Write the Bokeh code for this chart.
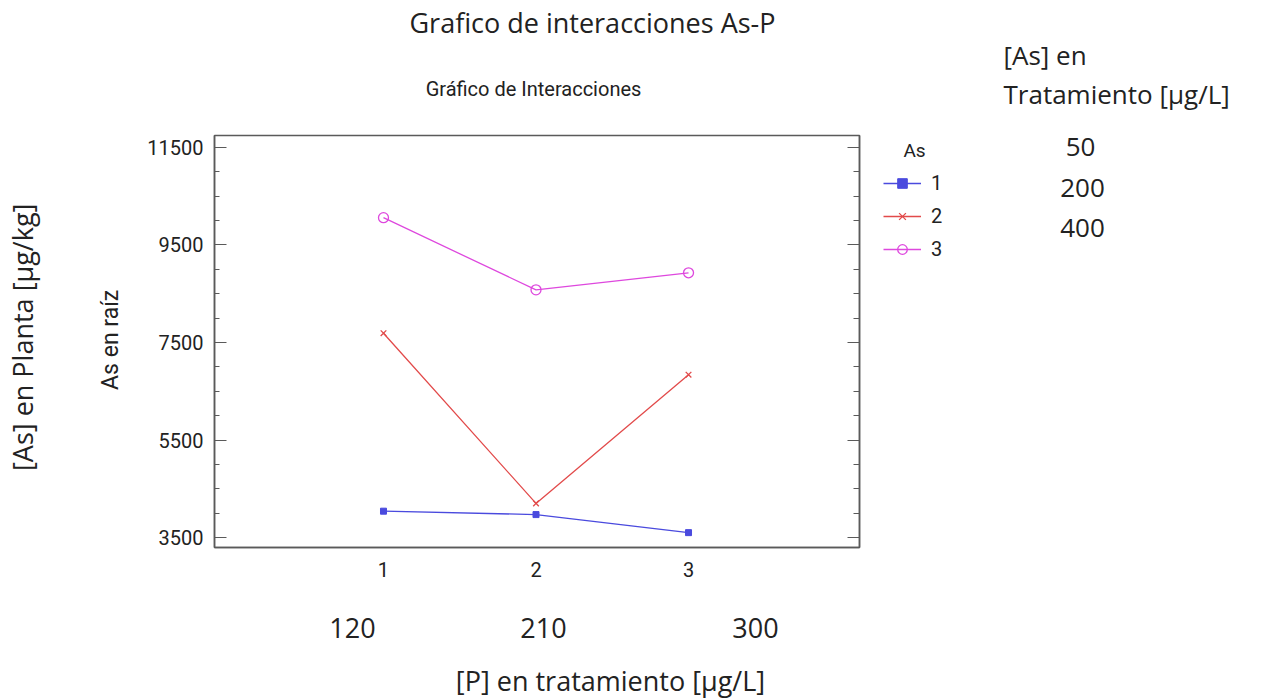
from math import pi
from bokeh.plotting import figure
from bokeh.layouts import row, column
from bokeh.models import Range1d, FixedTicker, LinearAxis, Label, Legend, LegendItem
from bokeh.embed import file_html
from bokeh.resources import INLINE

# ---- data ----
p_levels = [1, 2, 3]
p_conc_labels = ["120", "210", "300"]
as_levels = ["1", "2", "3"]
as_conc_labels = ["50", "200", "400"]
as1_values = [4040, 3970, 3600]
as2_values = [7690, 4200, 6840]
as3_values = [10060, 8580, 8930]
y_major_ticks = [3500, 5500, 7500, 9500, 11500]
y_minor_ticks = [4000, 4500, 5000, 6000, 6500, 7000, 8000, 8500, 9000, 10000, 10500, 11000]

NARROW = "Roboto"
SANS = "Open Sans"
TXT = "#222222"
AX = "#5a5a5a"
colors = ["#4a4ade", "#e24a4a", "#de48de"]
NAN = float("nan")

# page layout boxes (px)
RIGHT_X = 870          # right text/legend panel starts here
TOP_H = 115            # top text panel height
MAIN_X, MAIN_Y, MAIN_W, MAIN_H = 140, 115, RIGHT_X - 140, 490
FL, FR, FT, FB = 214, 859, 135, 547   # frame edges (page px)
X0, X1 = -0.108, 4.121
Y0, Y1 = 3295, 11746


def text_fig(ox, oy, w, h):
    f = figure(width=w, height=h, output_backend="svg", toolbar_location=None,
               x_range=Range1d(ox, ox + w), y_range=Range1d(oy + h, oy),
               x_axis_location=None, y_axis_location=None,
               min_border=0, outline_line_color=None)
    f.grid.visible = False
    f.background_fill_color = "white"
    f.border_fill_color = "white"
    return f


def lab(f, text, px, py, font, size, angle=0.0, align="center"):
    f.add_layout(Label(x=px, y=py, text=text, text_font=font,
                       text_font_size=f"{size}px", text_align=align,
                       text_baseline="middle", angle=angle, text_color=TXT))


# ---- main chart ----
p = figure(width=MAIN_W, height=MAIN_H, output_backend="svg", toolbar_location=None,
           x_range=Range1d(X0, X1), y_range=Range1d(Y0, Y1),
           min_border_left=FL - MAIN_X, min_border_right=MAIN_X + MAIN_W - FR,
           min_border_top=FT - MAIN_Y, min_border_bottom=MAIN_Y + MAIN_H - FB)
p.background_fill_color = "white"
p.border_fill_color = "white"
p.grid.visible = False
p.outline_line_color = AX
p.outline_line_width = 1.5

xa = p.xaxis[0]
xa.ticker = FixedTicker(ticks=p_levels)
xa.major_tick_in = 0
xa.major_tick_out = 0
xa.minor_tick_in = 0
xa.minor_tick_out = 0
xa.axis_line_color = AX
xa.axis_line_width = 1.5
xa.major_label_text_font = NARROW
xa.major_label_text_font_size = "20px"
xa.major_label_text_color = TXT
xa.major_label_standoff = 14

yticker = FixedTicker(ticks=y_major_ticks, minor_ticks=y_minor_ticks)
ya = p.yaxis[0]
ya.ticker = yticker
ya.major_tick_in = 12
ya.major_tick_out = 0
ya.minor_tick_in = 5
ya.minor_tick_out = 0
ya.axis_line_color = AX
ya.axis_line_width = 1.5
ya.major_tick_line_color = AX
ya.minor_tick_line_color = AX
ya.major_label_text_font = NARROW
ya.major_label_text_font_size = "20px"
ya.major_label_text_color = TXT
ya.major_label_standoff = 11

ra = LinearAxis(ticker=yticker, major_tick_in=12, major_tick_out=0,
                minor_tick_in=6, minor_tick_out=0, axis_line_color=AX,
                axis_line_width=1.5, major_tick_line_color=AX,
                minor_tick_line_color=AX, major_label_text_color=None,
                major_label_overrides={v: "" for v in y_major_ticks},
                major_label_standoff=0)
p.add_layout(ra, "right")

p.line(p_levels, as1_values, line_color=colors[0], line_width=1.3)
p.scatter(p_levels, as1_values, marker="square", size=6, color=colors[0])
p.line(p_levels, as2_values, line_color=colors[1], line_width=1.3)
p.scatter(p_levels, as2_values, marker="x", size=8, line_color=colors[1], line_width=1.3)
p.line(p_levels, as3_values, line_color=colors[2], line_width=1.3)
p.scatter(p_levels, as3_values, marker="circle", size=10, fill_color=None,
          line_color=colors[2], line_width=1.3)

# ---- surrounding texts ----
top = text_fig(0, 0, RIGHT_X, TOP_H)
lab(top, "Grafico de interacciones As-P", 592, 22, SANS, 27)
lab(top, "Gráfico de Interacciones", 533, 88, NARROW, 20)

left = text_fig(0, MAIN_Y, MAIN_X, MAIN_H)
lab(left, "[As] en Planta [μg/kg]", 22, 355, SANS, 27, angle=pi / 2)
lab(left, "As en raíz", 110, 358, NARROW, 23, angle=pi / 2)

bottom_y = MAIN_Y + MAIN_H
bottom = text_fig(0, bottom_y, RIGHT_X, 698 - bottom_y)
for txt, px in zip(p_conc_labels, [352, 543, 755]):
    lab(bottom, txt, px, 627, SANS, 27)
lab(bottom, "[P] en tratamiento [μg/L]", 610, 680, SANS, 27)

right = text_fig(RIGHT_X, 0, 1275 - RIGHT_X, 698)
# legend swatches: style-only renderers (single NaN point, nothing drawn in the frame)
g1 = right.line([NAN], [NAN], line_color=colors[0], line_width=1.3)
s1 = right.scatter([NAN], [NAN], marker="square", size=6, color=colors[0])
g2 = right.line([NAN], [NAN], line_color=colors[1], line_width=1.3)
s2 = right.scatter([NAN], [NAN], marker="x", size=8, line_color=colors[1], line_width=1.3)
g3 = right.line([NAN], [NAN], line_color=colors[2], line_width=1.3)
s3 = right.scatter([NAN], [NAN], marker="circle", size=10, fill_color=None,
                   line_color=colors[2], line_width=1.3)
items = [LegendItem(label=as_levels[0], renderers=[g1, s1]),
         LegendItem(label=as_levels[1], renderers=[g2, s2]),
         LegendItem(label=as_levels[2], renderers=[g3, s3])]
legend = Legend(items=items, location=(883 - RIGHT_X, 698 - 261), border_line_color=None,
                background_fill_alpha=0, padding=0, margin=0, spacing=9,
                glyph_width=38, glyph_height=24, label_height=24, label_standoff=10,
                label_text_font=NARROW, label_text_font_size="20px",
                label_text_color=TXT)
right.add_layout(legend, "center")
lab(right, "As", 914, 150, NARROW, 19)

lab(right, "[As] en", 1003, 54, SANS, 26, align="left")
lab(right, "Tratamiento  [μg/L]", 1003, 93, SANS, 26, align="left")
for txt, px, py in zip(as_conc_labels, [1080, 1082, 1082], [146, 187, 227]):
    lab(right, txt, px, py, SANS, 26)

layout = row(column(top, row(left, p, spacing=0), bottom, spacing=0), right, spacing=0)

open("out.html", "w").write(file_html(layout, INLINE))
